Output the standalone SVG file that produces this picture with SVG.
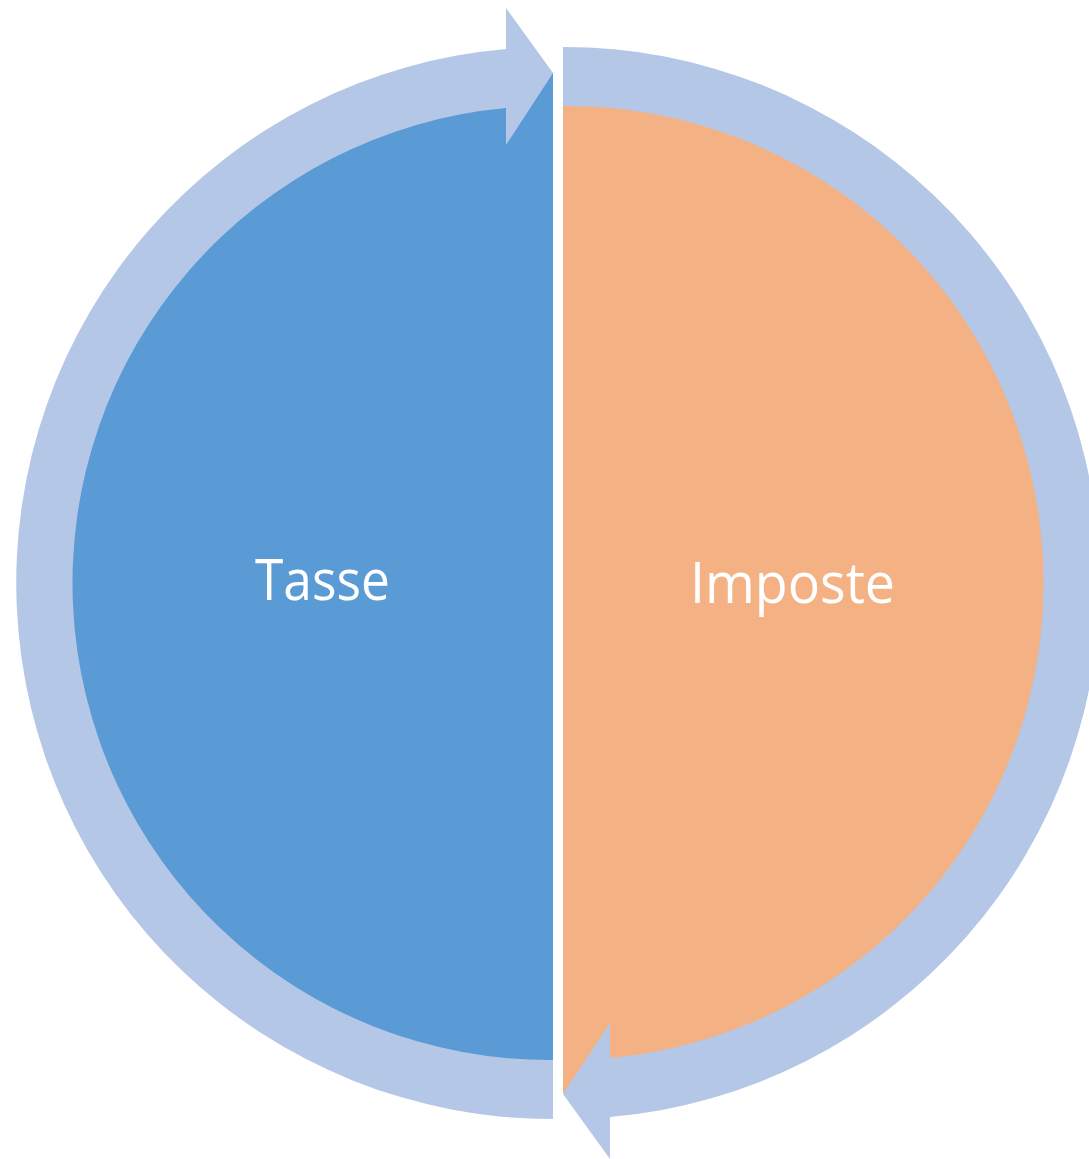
<svg xmlns="http://www.w3.org/2000/svg" width="1089" height="1159" viewBox="0 0 1089 1159">
  <style>
    .lbl { font-family: "Open Sans", "Noto Sans", "Liberation Sans", sans-serif; font-size: 57px; fill: #FFFFFF; text-anchor: middle; }
    .ring { fill: #B4C7E7; }
  </style>
  <rect width="1089" height="1159" fill="#FFFFFF"/>
  <g id="node-tasse">
    <path d="M553,73 A510,510 0 0 0 553,1093 Z" fill="#5B9BD5"/>
    <text class="lbl" x="322.5" y="600" textLength="135" lengthAdjust="spacingAndGlyphs">Tasse</text>
  </g>
  <g id="node-imposte">
    <path d="M563,73 A510,510 0 0 1 563,1093 Z" fill="#F4B183"/>
    <text class="lbl" x="792.5" y="603" textLength="205" lengthAdjust="spacingAndGlyphs">Imposte</text>
  </g>
  <g id="connectors">
    <path class="ring" d="M553,1119 A536,536 0 0 1 506,49 L506,8 L553,73 L506,145 L506,108 A477,477 0 0 0 553,1060 Z"/>
    <path class="ring" d="M563,47 A536,536 0 0 1 610,1117 L610,1159 L563,1094 L610,1023 L610,1058 A477,477 0 0 0 563,106 Z"/>
  </g>
</svg>
